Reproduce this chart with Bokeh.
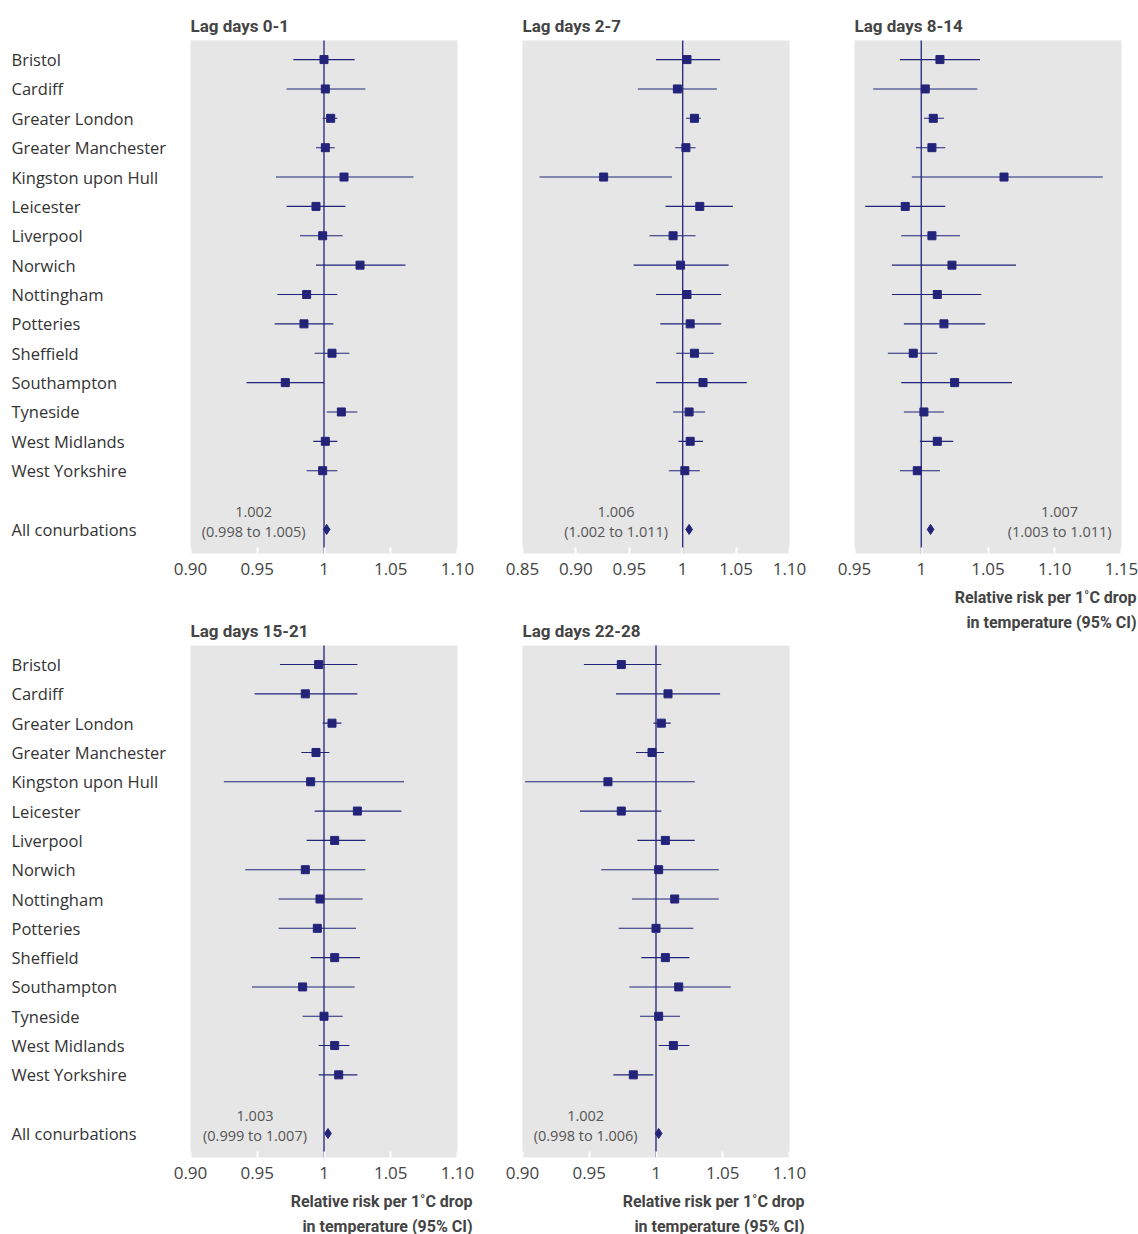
from bokeh.plotting import figure
from bokeh.layouts import row, column
from bokeh.models import FixedTicker, Title, ColumnDataSource, Range1d
from bokeh.core.properties import value
from bokeh.embed import file_html
from bokeh.resources import INLINE

cities = ["Bristol", "Cardiff", "Greater London", "Greater Manchester", "Kingston upon Hull",
          "Leicester", "Liverpool", "Norwich", "Nottingham", "Potteries", "Sheffield",
          "Southampton", "Tyneside", "West Midlands", "West Yorkshire"]
all_label = "All conurbations"

titles = ["Lag days 0-1", "Lag days 2-7", "Lag days 8-14", "Lag days 15-21", "Lag days 22-28"]

est = [
    [1.000, 1.001, 1.005, 1.001, 1.015, 0.994, 0.999, 1.027, 0.987, 0.985, 1.006, 0.971, 1.013, 1.001, 0.999],
    [1.004, 0.995, 1.011, 1.003, 0.926, 1.016, 0.991, 0.998, 1.004, 1.007, 1.011, 1.019, 1.006, 1.007, 1.002],
    [1.014, 1.003, 1.009, 1.008, 1.062, 0.988, 1.008, 1.023, 1.012, 1.017, 0.994, 1.025, 1.002, 1.012, 0.997],
    [0.996, 0.986, 1.006, 0.994, 0.990, 1.025, 1.008, 0.986, 0.997, 0.995, 1.008, 0.984, 1.000, 1.008, 1.011],
    [0.974, 1.009, 1.004, 0.997, 0.964, 0.974, 1.007, 1.002, 1.014, 1.000, 1.007, 1.017, 1.002, 1.013, 0.983],
]
lo = [
    [0.977, 0.972, 0.999, 0.994, 0.964, 0.972, 0.982, 0.994, 0.965, 0.963, 0.993, 0.942, 1.002, 0.992, 0.987],
    [0.975, 0.958, 1.003, 0.993, 0.866, 0.984, 0.969, 0.954, 0.975, 0.979, 0.994, 0.975, 0.991, 0.996, 0.987],
    [0.984, 0.964, 1.002, 0.996, 0.993, 0.958, 0.985, 0.978, 0.978, 0.987, 0.975, 0.985, 0.987, 0.999, 0.984],
    [0.967, 0.948, 0.999, 0.983, 0.925, 0.993, 0.987, 0.941, 0.966, 0.966, 0.990, 0.946, 0.984, 0.996, 0.996],
    [0.946, 0.970, 0.998, 0.985, 0.902, 0.943, 0.986, 0.959, 0.982, 0.972, 0.989, 0.980, 0.988, 1.002, 0.968],
]
hi = [
    [1.023, 1.031, 1.010, 1.008, 1.067, 1.016, 1.014, 1.061, 1.010, 1.007, 1.019, 1.000, 1.025, 1.010, 1.010],
    [1.035, 1.032, 1.017, 1.012, 0.990, 1.047, 1.012, 1.043, 1.036, 1.036, 1.029, 1.060, 1.021, 1.019, 1.016],
    [1.044, 1.042, 1.017, 1.018, 1.136, 1.018, 1.029, 1.071, 1.045, 1.048, 1.012, 1.068, 1.017, 1.024, 1.014],
    [1.025, 1.025, 1.013, 1.004, 1.060, 1.058, 1.031, 1.031, 1.029, 1.024, 1.027, 1.023, 1.014, 1.019, 1.025],
    [1.004, 1.048, 1.011, 1.006, 1.029, 1.004, 1.029, 1.047, 1.047, 1.028, 1.025, 1.056, 1.018, 1.025, 0.998],
]
all_est = [1.002, 1.006, 1.007, 1.003, 1.002]
all_ci = ["(0.998 to 1.005)", "(1.002 to 1.011)", "(1.003 to 1.011)", "(0.999 to 1.007)", "(0.998 to 1.006)"]
all_est_txt = ["1.002", "1.006", "1.007", "1.003", "1.002"]

ticks = [
    [0.90, 0.95, 1.0, 1.05, 1.10],
    [0.85, 0.90, 0.95, 1.0, 1.05, 1.10],
    [0.95, 1.0, 1.05, 1.10, 1.15],
    [0.90, 0.95, 1.0, 1.05, 1.10],
    [0.90, 0.95, 1.0, 1.05, 1.10],
]
ranges = [(0.90, 1.10), (0.85, 1.10), (0.95, 1.15), (0.90, 1.10), (0.90, 1.10)]

NAVY = "#23237a"
FONT = "Open Sans"
FONT_V = value(FONT)
YR = (16.82, -0.65)
ALL_Y = 16


def label_fig(h, top, bottom):
    f = figure(width=170, height=h, output_backend="svg", toolbar_location=None,
               x_range=Range1d(0, 170), y_range=Range1d(*YR),
               x_axis_location=None, y_axis_location=None,
               min_border_left=0, min_border_right=0, min_border_top=top, min_border_bottom=bottom)
    f.outline_line_color = None
    f.xgrid.visible = False
    f.ygrid.visible = False
    names = cities + [all_label]
    ys = list(range(len(cities))) + [ALL_Y]
    f.text(x=[11] * len(names), y=ys, text=names, text_font=FONT_V, text_font_size="16.5px",
           text_color="#333333", text_baseline="middle", text_align="left")
    return f


def panel(i, h, top, bottom, right, xlabel, txt_offset):
    f = figure(width=20 + 267 + right, height=h, output_backend="svg", toolbar_location=None,
               x_range=Range1d(*ranges[i]), y_range=Range1d(*YR), y_axis_location=None,
               min_border_left=20, min_border_right=right, min_border_top=top, min_border_bottom=bottom)
    f.background_fill_color = "#e6e6e6"
    f.border_fill_color = "white"
    f.outline_line_color = None
    f.xgrid.visible = False
    f.ygrid.visible = False
    f.title.text = titles[i]
    f.title.text_font = "Roboto"
    f.title.text_font_style = "bold"
    f.title.text_font_size = "17px"
    f.title.text_color = "#444444"
    f.title.align = "left"
    f.title.offset = 0
    ax = f.xaxis[0]
    ax.ticker = FixedTicker(ticks=ticks[i])
    ax.major_label_overrides = {t: ("1" if t == 1.0 else f"{t:.2f}") for t in ticks[i]}
    ax.axis_line_color = None
    ax.major_tick_line_color = "white"
    ax.major_tick_line_width = 2
    ax.major_tick_in = 6
    ax.major_tick_out = 0
    ax.minor_tick_line_color = None
    ax.major_label_text_font = FONT
    ax.major_label_text_font_size = "17px"
    ax.major_label_text_color = "#444444"
    ax.major_label_standoff = 9
    src = ColumnDataSource(dict(y=list(range(len(cities))), est=est[i], lo=lo[i], hi=hi[i]))
    f.segment(x0="lo", x1="hi", y0="y", y1="y", source=src, line_color=NAVY, line_width=1.1)
    f.ray(x=[1.0], y=[YR[0]], length=0, angle=1.5708, line_color=NAVY, line_width=1.3)
    f.scatter(x="est", y="y", source=src, marker="square", size=8, fill_color=NAVY, line_color=NAVY)
    f.scatter(x=[all_est[i]], y=[ALL_Y], marker="diamond", size=10, fill_color=NAVY, line_color=NAVY)
    f.text(x=[all_est[i]], y=[ALL_Y], text=[all_est_txt[i]], x_offset=txt_offset, y_offset=-17,
           text_font=FONT_V, text_font_size="14.5px", text_color="#555555",
           text_align="center", text_baseline="middle")
    f.text(x=[all_est[i]], y=[ALL_Y], text=[all_ci[i]], x_offset=txt_offset, y_offset=2,
           text_font=FONT_V, text_font_size="14.5px", text_color="#555555",
           text_align="center", text_baseline="middle")
    if xlabel:
        for txt, so in [("Relative risk per 1˚C drop", 16), ("in temperature (95% CI)", -7)]:
            t = Title(text=txt, align="right", offset=-15,
                      text_font="Roboto", text_font_style="bold", text_font_size="16px",
                      text_color="#444444", standoff=so, text_line_height=0.8)
            f.add_layout(t, "below")
    return f


T1, B1 = 40, 57
H1 = T1 + 513 + B1
T2, B2 = 35, 86
H2 = T2 + 512 + B2
B3 = 88
H3 = T1 + 513 + B3

l1 = label_fig(H1, T1, B1)
l2 = label_fig(H2, T2, B2)
p1 = panel(0, H1, T1, B1, 45, False, -73)
p2 = panel(1, H1, T1, B1, 45, False, -73)
p3 = panel(2, H3, T1, B3, 17, True, 129)
p4 = panel(3, H2, T2, B2, 45, True, -73)
p5 = panel(4, H2, T2, B2, 45, True, -73)

layout = row(column(l1, l2), column(p1, p4), column(p2, p5), column(p3))
open("out.html", "w").write(file_html(layout, INLINE))
